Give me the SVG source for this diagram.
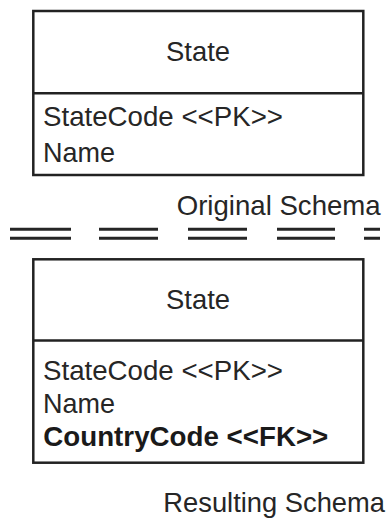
<svg xmlns="http://www.w3.org/2000/svg" width="389" height="518" viewBox="0 0 389 518">
<style>
.box{fill:#fff;stroke:#222;stroke-width:2.5}
.div{stroke:#222;stroke-width:2.5}
.t{font-family:"Liberation Sans",Arial,sans-serif;font-size:27.5px;fill:#262626}
.b{font-weight:bold;fill:#1a1a1a}
.sep{stroke:#262626;stroke-width:3;fill:none}
</style>
<rect width="389" height="518" fill="#fff"/>
<g id="state-original">
<rect class="box" x="33.3" y="11" width="330" height="164"/>
<line class="div" x1="33.3" y1="93.3" x2="363.3" y2="93.3"/>
<text class="t" x="166" y="61" textLength="64" lengthAdjust="spacingAndGlyphs">State</text>
<text class="t" x="43" y="126" textLength="240" lengthAdjust="spacingAndGlyphs">StateCode &lt;&lt;PK&gt;&gt;</text>
<text class="t" x="43" y="162" textLength="72" lengthAdjust="spacingAndGlyphs">Name</text>
</g>
<g id="label-original">
<text class="t" x="176.7" y="215" textLength="204" lengthAdjust="spacingAndGlyphs">Original Schema</text>
</g>
<g id="separator">
<path class="sep" d="M10 229.3H71M99 229.3H158M188 229.3H247M277 229.3H335M364 229.3H380M10 238.3H71M99 238.3H158M188 238.3H247M277 238.3H335M364 238.3H380"/>
</g>
<g id="state-resulting">
<rect class="box" x="33.3" y="259.3" width="330" height="203.4"/>
<line class="div" x1="33.3" y1="340.5" x2="363.3" y2="340.5"/>
<text class="t" x="166" y="309" textLength="64" lengthAdjust="spacingAndGlyphs">State</text>
<text class="t" x="43" y="380" textLength="240" lengthAdjust="spacingAndGlyphs">StateCode &lt;&lt;PK&gt;&gt;</text>
<text class="t" x="43" y="413" textLength="72" lengthAdjust="spacingAndGlyphs">Name</text>
<text class="t b" x="43.3" y="446" textLength="285" lengthAdjust="spacingAndGlyphs">CountryCode &lt;&lt;FK&gt;&gt;</text>
</g>
<g id="label-resulting">
<text class="t" x="163.3" y="512" textLength="221.7" lengthAdjust="spacingAndGlyphs">Resulting Schema</text>
</g>
</svg>
